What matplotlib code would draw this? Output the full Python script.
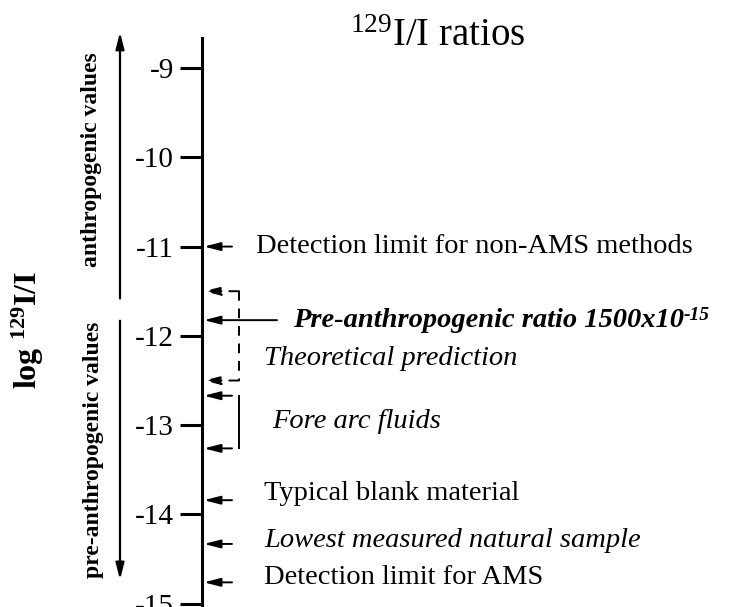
import matplotlib
matplotlib.use('Agg')
import matplotlib.pyplot as plt

plt.rcParams['font.family'] = ['Liberation Serif', 'DejaVu Serif']
plt.rcParams['axes.unicode_minus'] = False
plt.rcParams['mathtext.fontset'] = 'custom'
plt.rcParams['mathtext.rm'] = 'Liberation Serif'
plt.rcParams['mathtext.it'] = 'Liberation Serif:italic'
plt.rcParams['mathtext.bf'] = 'Liberation Serif:bold'

# log10 of 129I/I
tick_values = [-9, -10, -11, -12, -13, -14, -15]

marker_values = [-11.0, -11.824, -13.84, -14.33, -14.76]
label_values = [-11.0, -11.824, -13.77, -14.29, -14.71]
marker_labels = ['Detection limit for non-AMS methods',
                 'Pre-anthropogenic ratio 1500x10',
                 'Typical blank material',
                 'Lowest measured natural sample',
                 'Detection limit for AMS']
marker_styles = ['normal', 'bolditalic', 'normal', 'italic', 'normal']

theory_range = [-11.5, -12.5]
forearc_range = [-12.67, -13.26]

anthro_range = [-11.58, -8.6]
preanthro_range = [-11.83, -14.73]

fig = plt.figure(figsize=(7.3, 6.07), dpi=100)
ax = fig.add_axes([0, 0, 1, 1])
ax.set_xlim(0, 730)
ax.set_ylim(-15.036, -8.239)

for s in ['top', 'right', 'bottom']:
    ax.spines[s].set_visible(False)
ax.spines['left'].set_position(('data', 202))
ax.spines['left'].set_bounds(-15.2, -8.66)
ax.spines['left'].set_linewidth(2.2)
ax.set_xticks([])
ax.set_yticks(tick_values)
ax.set_yticklabels([str(v) for v in tick_values])
ax.tick_params(axis='y', length=16, width=2.2, pad=4, labelsize=21)

arrow_kw = dict(arrowstyle='-|>,head_length=0.7,head_width=0.18', color='black',
                lw=1.4, shrinkA=0, shrinkB=0, mutation_scale=14)


def pointer(y, x0, ls='-'):
    ax.annotate('', xy=(204, y), xytext=(x0, y),
                arrowprops=dict(linestyle=ls, **arrow_kw))


for v, tv, lab, st in zip(marker_values, label_values, marker_labels, marker_styles):
    if st == 'bolditalic':
        pointer(v, 277)
        t = ax.text(293, tv, lab, fontsize=20.5, fontweight='bold', fontstyle='italic',
                    va='center', ha='left')
        # exponent of 1500x10^-15
        ax.annotate('-15', xy=(1.0, 1.02), xycoords=t, fontsize=14,
                    fontweight='bold', fontstyle='italic', va='top', ha='left')
    else:
        pointer(v, 232)
        ax.text(256 if v == -11.0 else 264, tv, lab, fontsize=20.5,
                fontstyle=st, va='center', ha='left')

# theoretical prediction: dashed bracket
for v in theory_range:
    pointer(v, 239, ls=(0, (5, 4)))
ax.plot([239, 239], theory_range, color='black', lw=1.4, ls=(0, (5, 4)))
ax.text(264, -12.25, 'Theoretical prediction', fontsize=20.5, fontstyle='italic',
        va='center', ha='left')

# fore arc fluids: solid bracket
for v in forearc_range:
    pointer(v, 232)
ax.plot([239, 239], forearc_range, color='black', lw=1.4)
ax.text(272, -12.96, 'Fore arc fluids', fontsize=20.5, fontstyle='italic',
        va='center', ha='left')

# range arrows on the left
ax.annotate('', xy=(120, anthro_range[1]), xytext=(120, anthro_range[0]),
            arrowprops=dict(arrow_kw, lw=1.6))
ax.annotate('', xy=(120, preanthro_range[1]), xytext=(120, preanthro_range[0]),
            arrowprops=dict(arrow_kw, lw=1.6))
ax.text(92, -10.03, 'anthropogenic values', rotation=90,
        fontsize=17, fontweight='bold', va='center', ha='center')
ax.text(94, -13.28, 'pre-anthropogenic values', rotation=90,
        fontsize=17, fontweight='bold', va='center', ha='center')

ax.text(28, -11.93, r'log $^{\mathbf{129}}$I/I', rotation=90, fontsize=23,
        fontweight='bold', va='center', ha='center')
ax.text(438, -8.75, r'$^{129}$I/I ratios', fontsize=28, va='baseline', ha='center')

fig.savefig('out.png', dpi=100)
